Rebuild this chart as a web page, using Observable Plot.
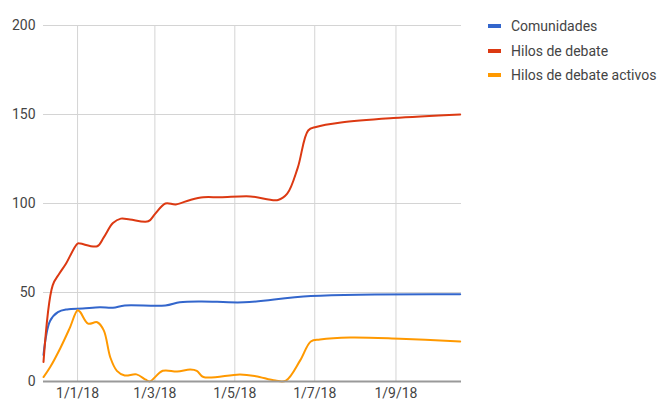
<!DOCTYPE html>
<html>
<head>
<meta charset="utf-8">
<script src="https://cdn.jsdelivr.net/npm/d3@7"></script>
<script src="https://cdn.jsdelivr.net/npm/@observablehq/plot@0.6"></script>
<style>
  html, body { margin: 0; padding: 0; background: #fff; }
  #wrap { position: relative; width: 657px; height: 401px; font-family: Roboto, "Liberation Sans", Arial, sans-serif; }
  #legend { position: absolute; left: 488px; top: 14px; font-size: 14px; color: #444; }
  .item { display: flex; align-items: center; height: 24.5px; }
  .sw { width: 13px; height: 4px; margin-right: 10px; }
</style>
</head>
<body>
<div id="wrap"><div id="legend"></div></div>
<script>
const seriesNames = ["Comunidades", "Hilos de debate", "Hilos de debate activos"];
const seriesColors = ["#3366cc", "#dc3912", "#ff9900"];

const comDates = ["2017-12-06","2017-12-11","2017-12-17","2017-12-24","2018-01-05","2018-01-18","2018-01-28","2018-02-06","2018-03-09","2018-03-20","2018-04-05","2018-05-08","2018-06-28","2018-10-20"];
const comValues = [15, 34, 39, 40.5, 41, 41.7, 41.5, 42.7, 42.7, 44.5, 45, 44.5, 48, 49];

const hilDates = ["2017-12-06","2017-12-13","2017-12-18","2017-12-23","2018-01-01","2018-01-03","2018-01-16","2018-01-21","2018-01-28","2018-02-03","2018-02-10","2018-02-24","2018-03-01","2018-03-09","2018-03-17","2018-03-28","2018-04-07","2018-04-20","2018-05-13","2018-06-03","2018-06-10","2018-06-18","2018-06-26","2018-07-02","2018-07-21","2018-08-30","2018-10-20"];
const hilValues = [11, 54, 60.5, 66, 77.5, 77.5, 76, 81, 89, 91.5, 91, 90, 94, 100, 99.5, 102, 103.5, 103.5, 104, 102, 105.5, 120, 141, 143, 145.5, 148, 150];

const actDates = ["2017-12-06","2017-12-11","2017-12-19","2017-12-26","2018-01-01","2018-01-03","2018-01-09","2018-01-16","2018-01-21","2018-01-26","2018-01-31","2018-02-06","2018-02-15","2018-02-22","2018-02-25","2018-03-07","2018-03-18","2018-03-28","2018-04-02","2018-04-07","2018-05-05","2018-05-17","2018-06-01","2018-06-09","2018-06-20","2018-06-28","2018-07-05","2018-07-28","2018-09-04","2018-10-20"];
const actValues = [2.5, 8, 19, 30, 40, 39, 32.5, 33.3, 28.7, 13.5, 6, 3.4, 4, 1, 0, 6, 5.6, 6.7, 6, 2.5, 4, 3, 0.5, 0.5, 12, 22.5, 23.6, 24.7, 24, 22.5];

const xTicks = ["2018-01-01","2018-03-01","2018-05-01","2018-07-01","2018-09-01"];
const yTicks = [0, 50, 100, 150, 200];

const toRows = (dates, values, s) => dates.map((d, i) => ({date: new Date(d), value: values[i], s}));
const rows = [
  ...toRows(comDates, comValues, seriesNames[0]),
  ...toRows(hilDates, hilValues, seriesNames[1]),
  ...toRows(actDates, actValues, seriesNames[2])
];

const fmt = d => `${d.getUTCDate()}/${d.getUTCMonth() + 1}/${String(d.getUTCFullYear()).slice(2)}`;

const chart = Plot.plot({
  width: 657,
  height: 401,
  marginLeft: 43,
  marginRight: 196,
  marginTop: 25,
  marginBottom: 20,
  style: {fontFamily: 'Roboto, "Liberation Sans", Arial, sans-serif', fontSize: "14px", color: "#444", background: "#fff"},
  x: {type: "utc", domain: [new Date("2017-12-06"), new Date("2018-10-21")], label: null},
  y: {domain: [0, 200], label: null},
  color: {domain: seriesNames, range: seriesColors},
  marks: [
    Plot.gridX(xTicks.map(d => new Date(d)), {stroke: "#d4d4d4", strokeOpacity: 1}),
    Plot.gridY(yTicks, {stroke: "#d4d4d4", strokeOpacity: 1}),
    Plot.axisX(xTicks.map(d => new Date(d)), {tickSize: 0, tickPadding: 7, tickFormat: fmt, fill: "#444", label: null}),
    Plot.axisY(yTicks, {tickSize: 0, tickPadding: 8, fill: "#444", label: null}),
    Plot.line(rows, {x: "date", y: "value", z: "s", stroke: "s", strokeWidth: 2, curve: "catmull-rom"}),
    Plot.ruleY([0], {stroke: "#999", strokeWidth: 2})
  ]
});
document.getElementById("wrap").prepend(chart);

const legend = document.getElementById("legend");
seriesNames.forEach((n, i) => {
  const it = document.createElement("div");
  it.className = "item";
  it.innerHTML = `<span class="sw" style="background:${seriesColors[i]}"></span><span>${n}</span>`;
  legend.appendChild(it);
});
</script>
</body>
</html>
